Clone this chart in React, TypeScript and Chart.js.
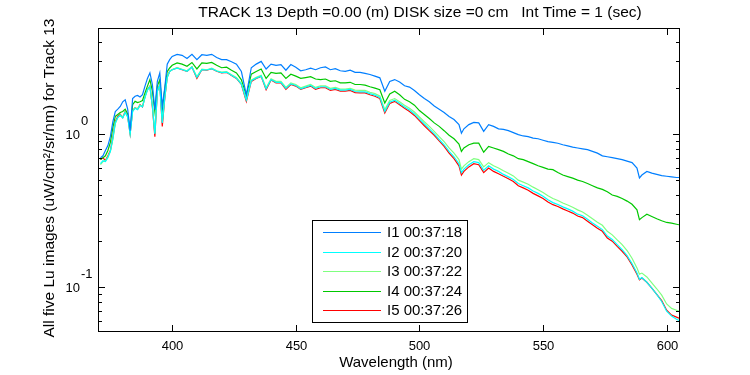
import React, { useEffect, useRef } from "react";
import { Chart, registerables } from "chart.js";

Chart.register(...registerables);

// Wavelength samples (nm)
const wavelengths = [
  371, 372, 373, 374, 375, 376, 377, 378, 379, 380,
  381, 382, 383, 384, 385, 386, 387, 388, 389, 390,
  391, 392, 393, 394, 395, 396, 397, 398, 399, 400,
  402, 404, 406, 408, 410, 412, 414, 416, 418, 420,
  422, 424, 426, 428, 430, 432, 434, 436, 438, 440,
  442, 444, 446, 448, 450, 452, 454, 456, 458, 460,
  462, 464, 466, 468, 470, 472, 474, 476, 478, 480,
  482, 484, 486, 488, 490, 492, 494, 496, 498, 500,
  502, 504, 506, 508, 510, 512, 514, 516, 517, 518,
  520, 522, 524, 526, 528, 530, 532, 534, 536, 538,
  540, 542, 544, 546, 548, 550, 552, 554, 556, 558,
  560, 562, 564, 566, 568, 570, 572, 574, 576, 578,
  580, 582, 584, 586, 588, 589, 590, 592, 594, 596,
  598, 600, 602, 604, 605,
];

const I1 = [
  0.70, 0.72, 0.78, 0.84, 0.96, 1.20, 1.40, 1.45, 1.51, 1.62,
  1.67, 1.45, 1.05, 1.70, 1.76, 1.78, 1.74, 1.80, 2.05, 2.30,
  2.50, 2.10, 1.44, 2.20, 2.50, 1.50, 2.00, 2.85, 3.05, 3.20,
  3.30, 3.25, 3.10, 3.30, 3.05, 3.28, 3.25, 3.30, 3.15, 3.05,
  3.05, 2.95, 2.85, 2.55, 1.80, 2.70, 2.85, 2.97, 2.65, 2.85,
  2.80, 2.83, 2.60, 2.83, 2.72, 2.58, 2.62, 2.68, 2.62, 2.70,
  2.73, 2.62, 2.66, 2.58, 2.56, 2.60, 2.52, 2.52, 2.48, 2.44,
  2.38, 2.32, 1.90, 2.20, 2.26, 2.18, 2.06, 2.02, 1.92, 1.80,
  1.70, 1.62, 1.52, 1.45, 1.38, 1.30, 1.24, 1.15, 1.01, 1.08,
  1.15, 1.19, 1.18, 1.04, 1.15, 1.12, 1.08, 1.07, 1.05, 1.02,
  0.99, 0.97, 0.96, 0.94, 0.93, 0.91, 0.89, 0.88, 0.87, 0.85,
  0.835, 0.82, 0.81, 0.80, 0.79, 0.77, 0.75, 0.72, 0.71, 0.70,
  0.69, 0.68, 0.665, 0.65, 0.60, 0.517, 0.54, 0.57, 0.555, 0.545,
  0.535, 0.53, 0.525, 0.52, 0.52,
];

const I2 = [
  0.64, 0.67, 0.66, 0.70, 0.77, 0.93, 1.18, 1.28, 1.32, 1.27,
  1.38, 1.29, 1.00, 1.40, 1.47, 1.44, 1.53, 1.50, 1.73, 1.93,
  2.03, 1.52, 1.00, 1.90, 2.08, 1.18, 1.72, 2.33, 2.55, 2.62,
  2.68, 2.63, 2.56, 2.72, 2.34, 2.62, 2.61, 2.66, 2.57, 2.51,
  2.53, 2.41, 2.31, 2.11, 1.66, 2.22, 2.31, 2.38, 1.97, 2.26,
  2.17, 2.17, 1.98, 2.12, 2.07, 1.97, 2.02, 2.07, 1.98, 2.03,
  2.03, 1.95, 1.98, 1.93, 1.93, 1.95, 1.89, 1.88, 1.88, 1.83,
  1.79, 1.73, 1.40, 1.61, 1.66, 1.58, 1.50, 1.43, 1.35, 1.25,
  1.16, 1.08, 1.00, 0.92, 0.85, 0.77, 0.71, 0.64, 0.56, 0.59,
  0.63, 0.66, 0.65, 0.58, 0.62, 0.59, 0.57, 0.545, 0.525, 0.505,
  0.475, 0.46, 0.445, 0.425, 0.41, 0.392, 0.372, 0.357, 0.347, 0.335,
  0.325, 0.314, 0.30, 0.293, 0.278, 0.263, 0.25, 0.238, 0.216, 0.205,
  0.19, 0.176, 0.161, 0.143, 0.124, 0.113, 0.116, 0.108, 0.099, 0.09,
  0.081, 0.07, 0.065, 0.062, 0.061,
];

const I3 = [
  0.63, 0.66, 0.67, 0.71, 0.77, 0.92, 1.17, 1.28, 1.33, 1.28,
  1.39, 1.30, 1.02, 1.41, 1.48, 1.46, 1.54, 1.51, 1.74, 1.94,
  2.04, 1.53, 1.02, 1.91, 2.09, 1.20, 1.73, 2.34, 2.56, 2.63,
  2.70, 2.64, 2.58, 2.74, 2.36, 2.64, 2.62, 2.68, 2.58, 2.53,
  2.55, 2.43, 2.33, 2.13, 1.68, 2.24, 2.34, 2.41, 2.00, 2.29,
  2.20, 2.20, 2.01, 2.15, 2.10, 2.00, 2.05, 2.10, 2.01, 2.06,
  2.06, 1.98, 2.01, 1.96, 1.96, 1.98, 1.93, 1.92, 1.92, 1.87,
  1.83, 1.77, 1.44, 1.65, 1.70, 1.62, 1.54, 1.47, 1.39, 1.29,
  1.20, 1.12, 1.04, 0.96, 0.89, 0.81, 0.75, 0.68, 0.59, 0.62,
  0.66, 0.69, 0.68, 0.61, 0.65, 0.62, 0.60, 0.575, 0.555, 0.533,
  0.50, 0.485, 0.47, 0.45, 0.433, 0.415, 0.395, 0.38, 0.368, 0.355,
  0.344, 0.333, 0.32, 0.31, 0.295, 0.28, 0.266, 0.254, 0.232, 0.22,
  0.204, 0.19, 0.174, 0.155, 0.134, 0.122, 0.124, 0.117, 0.107, 0.098,
  0.089, 0.078, 0.073, 0.071, 0.070,
];

const I4 = [
  0.68, 0.70, 0.72, 0.78, 0.88, 1.10, 1.30, 1.34, 1.38, 1.40,
  1.45, 1.35, 1.05, 1.55, 1.63, 1.60, 1.62, 1.65, 1.85, 2.05,
  2.26, 1.90, 1.40, 2.05, 2.26, 1.45, 1.95, 2.55, 2.69, 2.80,
  2.90, 2.85, 2.76, 2.92, 2.65, 2.90, 2.88, 2.92, 2.80, 2.70,
  2.72, 2.60, 2.50, 2.25, 1.78, 2.45, 2.55, 2.65, 2.30, 2.52,
  2.48, 2.50, 2.30, 2.45, 2.38, 2.30, 2.33, 2.36, 2.28, 2.26,
  2.28, 2.20, 2.22, 2.15, 2.15, 2.17, 2.10, 2.10, 2.08, 2.03,
  1.99, 1.94, 1.59, 1.82, 1.90, 1.80, 1.68, 1.62, 1.54, 1.42,
  1.34, 1.26, 1.18, 1.12, 1.05, 0.98, 0.93, 0.86, 0.77, 0.81,
  0.85, 0.87, 0.87, 0.76, 0.83, 0.81, 0.79, 0.77, 0.74, 0.72,
  0.69, 0.68, 0.66, 0.64, 0.62, 0.605, 0.59, 0.585, 0.56, 0.54,
  0.527, 0.515, 0.50, 0.49, 0.475, 0.46, 0.445, 0.435, 0.42, 0.40,
  0.392, 0.38, 0.365, 0.348, 0.32, 0.276, 0.285, 0.30, 0.29, 0.28,
  0.272, 0.265, 0.262, 0.258, 0.256,
];

const I5 = [
  0.68, 0.70, 0.67, 0.72, 0.78, 0.95, 1.20, 1.30, 1.34, 1.28,
  1.40, 1.30, 1.00, 1.42, 1.48, 1.45, 1.55, 1.50, 1.75, 1.95,
  2.05, 1.50, 0.96, 1.90, 2.10, 1.12, 1.70, 2.35, 2.56, 2.62,
  2.69, 2.62, 2.56, 2.73, 2.30, 2.62, 2.60, 2.66, 2.56, 2.50,
  2.52, 2.40, 2.30, 2.10, 1.63, 2.20, 2.30, 2.37, 1.94, 2.25,
  2.15, 2.15, 1.95, 2.10, 2.05, 1.95, 2.00, 2.05, 1.95, 2.00,
  2.00, 1.92, 1.95, 1.90, 1.90, 1.92, 1.86, 1.85, 1.85, 1.80,
  1.76, 1.70, 1.37, 1.58, 1.63, 1.55, 1.47, 1.40, 1.32, 1.22,
  1.13, 1.05, 0.98, 0.90, 0.83, 0.75, 0.69, 0.62, 0.54, 0.57,
  0.61, 0.64, 0.63, 0.56, 0.60, 0.57, 0.55, 0.53, 0.51, 0.49,
  0.46, 0.445, 0.43, 0.41, 0.395, 0.38, 0.36, 0.346, 0.337, 0.325,
  0.315, 0.305, 0.292, 0.285, 0.27, 0.256, 0.243, 0.232, 0.21, 0.20,
  0.185, 0.172, 0.158, 0.14, 0.122, 0.112, 0.115, 0.108, 0.099, 0.09,
  0.082, 0.071, 0.066, 0.064, 0.063,
];

const seriesValues = [I1, I2, I3, I4, I5];
const seriesLabels = ["I1 00:37:18", "I2 00:37:20", "I3 00:37:22", "I4 00:37:24", "I5 00:37:26"];
const seriesColors = ["rgb(0,127,255)", "rgb(0,255,255)", "rgb(128,255,128)", "rgb(0,200,0)", "rgb(255,0,0)"];

const xTicks = [400, 450, 500, 550, 600];
const yMajorTicks = [0.1, 1];
const yTickExponents = ["-1", "0"];

const titleText = "TRACK 13 Depth =0.00 (m) DISK size =0 cm   Int Time = 1 (sec)";
const xTitleText = "Wavelength (nm)";
const yTitleText = "All five Lu images (uW/cm\u00B2/sr/nm) for Track 13";

const FONT = '"Liberation Sans", Arial, Helvetica, sans-serif';

const matlabPlugin = {
  id: "matlabAxes",
  afterDatasetsDraw(chart: any) {
    const { ctx, chartArea, scales } = chart;
    const x = scales.x;
    const y = scales.y;
    const L = Math.round(chartArea.left);
    const R = Math.round(chartArea.right);
    const T = Math.round(chartArea.top);
    const B = Math.round(chartArea.bottom);
    ctx.save();
    ctx.fillStyle = "#000";
    // box
    ctx.fillRect(L, T, R - L + 1, 1);
    ctx.fillRect(L, B, R - L + 1, 1);
    ctx.fillRect(L, T, 1, B - T + 1);
    ctx.fillRect(R, T, 1, B - T + 1);

    // x ticks
    ctx.font = "13px " + FONT;
    ctx.textAlign = "center";
    ctx.textBaseline = "middle";
    xTicks.forEach((t) => {
      const px = Math.round(x.getPixelForValue(t));
      ctx.fillRect(px, B - 6, 1, 6);
      ctx.fillRect(px, T + 1, 1, 6);
      ctx.fillText(String(t), px + 0.5, B + 15);
    });

    // y ticks (major + minor)
    const ymin = y.min;
    const ymax = y.max;
    [0.01, 0.1, 1].forEach((dec) => {
      for (let m = 1; m <= 9; m++) {
        const v = m * dec;
        if (v < ymin || v > ymax) continue;
        const py = Math.round(y.getPixelForValue(v));
        const len = m === 1 ? 6 : 3;
        ctx.fillRect(L + 1, py, len, 1);
        ctx.fillRect(R - len, py, len, 1);
      }
    });

    // y tick labels 10^n
    yMajorTicks.forEach((v, i) => {
      const py = y.getPixelForValue(v);
      ctx.font = "13px " + FONT;
      ctx.textAlign = "right";
      ctx.textBaseline = "middle";
      ctx.fillText("10", L - 18, py + 1);
      ctx.textAlign = "left";
      ctx.fillText(yTickExponents[i], L - 17, py - 12.5);
    });

    // title
    ctx.font = "15.5px " + FONT;
    ctx.textAlign = "center";
    ctx.textBaseline = "middle";
    ctx.fillText(titleText, 420, 13);

    // x title
    ctx.font = "15px " + FONT;
    ctx.fillText(xTitleText, 396, 363);

    // y title
    ctx.save();
    ctx.font = "15.5px " + FONT;
    ctx.translate(50, 178);
    ctx.rotate(-Math.PI / 2);
    ctx.fillText(yTitleText, 0, 0);
    ctx.restore();

    // legend
    const lx = 312, ly = 220, lw = 155, lh = 102;
    ctx.fillStyle = "#fff";
    ctx.fillRect(lx, ly, lw, lh);
    ctx.fillStyle = "#000";
    ctx.fillRect(lx, ly, lw + 1, 1);
    ctx.fillRect(lx, ly + lh, lw + 1, 1);
    ctx.fillRect(lx, ly, 1, lh + 1);
    ctx.fillRect(lx + lw, ly, 1, lh + 1);
    ctx.font = "15px " + FONT;
    ctx.textAlign = "left";
    ctx.textBaseline = "middle";
    seriesLabels.forEach((lab, i) => {
      const ry = Math.round(232 + i * 19.6);
      ctx.fillStyle = seriesColors[i];
      ctx.fillRect(323, ry, 58, 1);
      ctx.fillStyle = "#000";
      ctx.fillText(lab, 387, ry + 1);
    });
    ctx.restore();
  },
};

export default function App() {
  const canvasRef = useRef<HTMLCanvasElement | null>(null);

  useEffect(() => {
    if (!canvasRef.current) return;
    const chart = new Chart(canvasRef.current, {
      type: "line",
      data: {
        datasets: seriesValues.map((vals, i) => ({
          label: seriesLabels[i],
          data: wavelengths.map((w, j) => ({ x: w, y: vals[j] })),
          borderColor: seriesColors[i],
          backgroundColor: seriesColors[i],
          borderWidth: 1.2,
          pointRadius: 0,
          tension: 0,
          fill: false,
        })),
      },
      options: {
        animation: false,
        responsive: false,
        devicePixelRatio: 1,
        layout: { padding: { left: 98, right: 71, top: 28, bottom: 44 } },
        plugins: {
          legend: { display: false },
          title: { display: false },
          tooltip: { enabled: false },
        },
        scales: {
          x: { type: "linear", min: 370, max: 605, display: false },
          y: { type: "logarithmic", min: 0.052, max: 4.9, display: false },
        },
      },
      plugins: [matlabPlugin],
    });
    return () => chart.destroy();
  }, []);

  return (
    <div style={{ position: "absolute", left: 0, top: 0, width: 750, height: 375, background: "#fff" }}>
      <canvas ref={canvasRef} width={750} height={375} style={{ width: 750, height: 375, display: "block" }} />
    </div>
  );
}
